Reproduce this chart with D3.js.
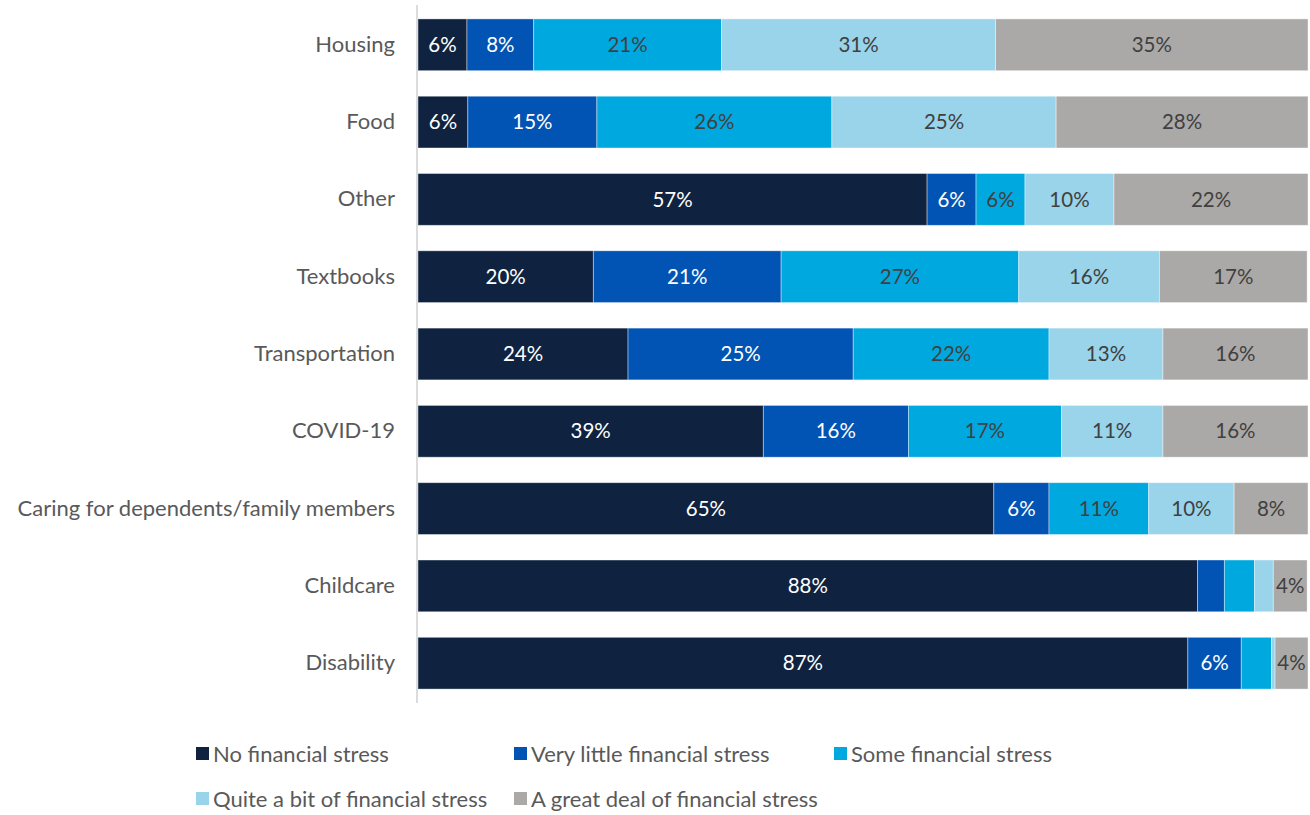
<!DOCTYPE html>
<html>
<head>
<meta charset="utf-8">
<script src="https://cdn.jsdelivr.net/npm/d3@7"></script>
<style>
  body { margin: 0; background: #fff; }
  svg text { font-family: Lato, "Open Sans", sans-serif; }
</style>
</head>
<body>
<svg id="chart" width="1310" height="815"></svg>
<script>
// categories, top to bottom
var categories = ["Housing", "Food", "Other", "Textbooks", "Transportation", "COVID-19",
  "Caring for dependents/family members", "Childcare", "Disability"];

var seriesNames = ["No financial stress", "Very little financial stress", "Some financial stress",
  "Quite a bit of financial stress", "A great deal of financial stress"];

// percent values per series (same order as categories)
var noStress      = [5.5, 5.6, 57.2, 19.7, 23.6, 38.8, 64.7, 87.6, 86.5];
var veryLittle    = [7.5, 14.5, 5.5, 21.1, 25.3, 16.3, 6.2, 3.0, 6.0];
var someStress    = [21.1, 26.4, 5.5, 26.7, 22.0, 17.2, 11.2, 3.4, 3.4];
var quiteABit     = [30.8, 25.2, 10.0, 15.8, 12.8, 11.4, 9.6, 2.1, 0.4];
var greatDeal     = [35.1, 28.3, 21.8, 16.6, 16.3, 16.3, 8.3, 3.8, 3.7];

var colors = ["#0f2341", "#0153b4", "#00a8e0", "#9ad4ea", "#aba9a8"];
var labelColors = ["#ffffff", "#ffffff", "#404040", "#404040", "#404040"];

var series = [noStress, veryLittle, someStress, quiteABit, greatDeal];

var rows = categories.map(function(c, i) {
  var r = { cat: c };
  seriesNames.forEach(function(s, k) { r[s] = series[k][i]; });
  return r;
});

var stacked = d3.stack().keys(seriesNames)(rows);

var svg = d3.select("#chart");
var margin = { left: 418, right: 2, top: 5, bottom: 110 };

var x = d3.scaleLinear().domain([0, 100]).range([margin.left, 1308]);
var y = d3.scaleBand().domain(categories).range([5, 703]).paddingInner(0.33).paddingOuter(0.18);

// bars
var layer = svg.append("g")
  .selectAll("g")
  .data(stacked)
  .enter()
  .append("g")
  .attr("fill", function(d, i) { return colors[i]; });

layer.selectAll("rect")
  .data(function(d) { return d; })
  .enter()
  .append("rect")
  .attr("x", function(d) { return x(d[0]); })
  .attr("width", function(d) { return x(d[1]) - x(d[0]); })
  .attr("y", function(d) { return y(d.data.cat); })
  .attr("height", y.bandwidth())
  .attr("stroke", "#ffffff")
  .attr("stroke-opacity", 0.5)
  .attr("stroke-width", 0.8);

// value labels (small slices stay unlabeled)
layer.selectAll("text")
  .data(function(d, i) { return d.map(function(p) { return { p: p, i: i }; }); })
  .enter()
  .filter(function(d) { return d.p[1] - d.p[0] >= 3.6; })
  .append("text")
  .attr("x", function(d) { return (x(d.p[0]) + x(d.p[1])) / 2; })
  .attr("y", function(d) { return y(d.p.data.cat) + y.bandwidth() / 2; })
  .attr("dy", "0.35em")
  .attr("text-anchor", "middle")
  .attr("font-size", "20.5px")
  .attr("fill", function(d) { return labelColors[d.i]; })
  .text(function(d) { return Math.round(d.p[1] - d.p[0]) + "%"; });

// category axis
var yAxis = svg.append("g")
  .attr("transform", "translate(" + (margin.left - 1) + ",0)")
  .call(d3.axisLeft(y).tickSize(0).tickPadding(22));
yAxis.select(".domain").attr("stroke", "#d0d0d0").attr("stroke-width", 1.5)
  .attr("d", "M0,5V703");
yAxis.selectAll("text")
  .attr("font-size", "22px")
  .attr("fill", "#595959")
  .style("font-family", "Lato, 'Open Sans', sans-serif");

// legend
var legendPos = [[196, 754], [514, 754], [834, 754], [196, 799], [514, 799]];
var legend = svg.append("g")
  .selectAll("g")
  .data(seriesNames)
  .enter()
  .append("g")
  .attr("transform", function(d, i) { return "translate(" + legendPos[i][0] + "," + legendPos[i][1] + ")"; });

legend.append("rect")
  .attr("x", 0).attr("y", -7).attr("width", 13).attr("height", 13)
  .attr("fill", function(d, i) { return colors[i]; });
legend.append("text")
  .attr("x", 17)
  .attr("dy", "0.35em")
  .attr("font-size", "22px")
  .attr("fill", "#595959")
  .text(function(d) { return d; });
</script>
</body>
</html>
